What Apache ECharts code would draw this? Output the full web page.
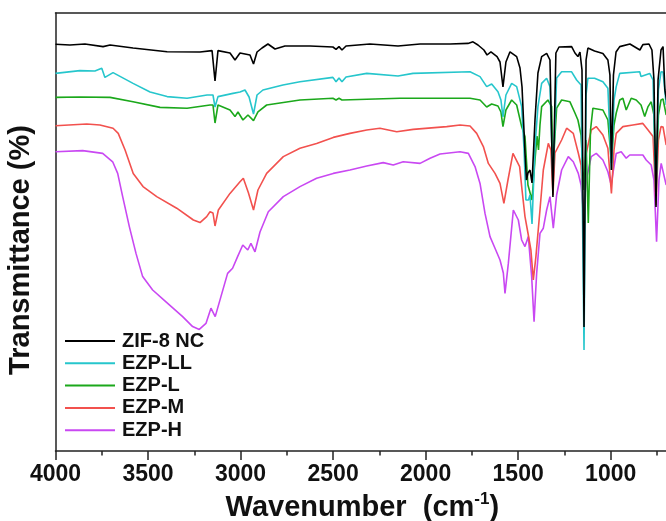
<!DOCTYPE html>
<html>
<head>
<meta charset="utf-8">
<title>FTIR spectra</title>
<script src="https://cdn.jsdelivr.net/npm/echarts@6/dist/echarts.min.js"></script>
<style>
  html, body { margin: 0; padding: 0; background: #ffffff; }
  #chart { width: 666px; height: 521px; }
</style>
</head>
<body>
<div id="chart"></div>
<script>
// FTIR transmittance spectra, stacked with vertical offsets (arbitrary units).
// Each point: [wavenumber (cm-1), transmittance].

const seriesNames = ['ZIF-8 NC', 'EZP-LL', 'EZP-L', 'EZP-M', 'EZP-H'];

const zif8nc = [
  [4000,101.7],[3922,101.5],[3841,101.75],[3743,101.1],[3705,101.5],[3581,100.75],[3397,99.8],
  [3219,99.75],[3154,100.1],[3138,92.5],[3122,100.1],[3057,99.5],[3030,97.75],[3003,99.5],
  [2949,99],[2930,96.75],[2911,99.75],[2884,100.75],[2852,101.75],[2814,100.5],[2760,101.25],
  [2625,101.25],[2501,101],[2484,100.4],[2468,101.1],[2452,100.25],[2430,101.25],[2301,101.75],
  [2149,101.25],[2030,101.75],[1868,101.75],[1771,101.9],[1744,102.3],[1717,101.5],[1685,100.25],
  [1668,99],[1647,99.8],[1614,98.6],[1598,97.25],[1582,91],[1566,97.25],[1544,99.8],[1508,98.6],
  [1490,95.75],[1479,91],[1463,74.5],[1455,67.75],[1447,69.5],[1436,70.25],[1425,67],[1409,82.75],
  [1393,94.5],[1373,98.6],[1346,99.4],[1328,97.75],[1312,63.5],[1296,99.5],[1279,101],[1211,101.1],
  [1193,99.5],[1177,98.6],[1166,99.75],[1155,95.25],[1144,31],[1133,97.75],[1123,100.75],
  [1087,100],[1042,99.4],[1015,97.75],[1004,94],[996,70.25],[985,94],[971,99.75],[951,101.1],
  [896,101.75],[842,100.25],[826,101.6],[793,101.75],[777,100.25],[766,92.75],[755,61],
  [744,92.75],[728,100.25],[717,101.1],[707,90.25],[698,87.75]
];

const ezpLL = [
  [4000,94.4],[3868,95.1],[3787,95],[3750,95.7],[3733,93.4],[3689,94.6],[3581,91.9],[3489,89.75],
  [3397,88.6],[3289,88.2],[3181,89],[3149,89],[3138,86],[3122,88.6],[3041,89.4],[3003,89.75],
  [2976,90.25],[2954,88.5],[2930,84.25],[2911,89],[2879,90.25],[2771,91.5],[2679,92.3],[2501,93.4],
  [2484,92.3],[2468,93.25],[2452,92.3],[2430,93.5],[2318,94.4],[2149,93.75],[2068,94.4],[1760,94.8],
  [1706,93.6],[1670,91.1],[1643,91.75],[1609,89.8],[1593,87.75],[1582,83.5],[1566,89],[1535,91.9],
  [1508,91.1],[1481,86.1],[1468,75.25],[1458,62.75],[1444,62.75],[1436,64],[1425,56.75],[1409,76.1],
  [1393,86.1],[1373,91.9],[1346,93.2],[1328,91.1],[1312,67.75],[1292,93.25],[1265,94.8],[1211,94.8],
  [1184,92.75],[1160,91.5],[1144,25.25],[1133,89],[1123,93.2],[1087,93.2],[1042,92.3],[1015,90.7],
  [996,70.25],[982,87.75],[970,91.1],[951,94.4],[843,94.8],[836,93.6],[789,94.4],[771,92.75],
  [755,62.75],[742,90.25],[728,94.8],[717,94.75],[700,86.5]
];

const ezpL = [
  [4000,88.4],[3868,88.5],[3705,88.4],[3581,87.3],[3435,85.9],[3289,85.7],[3165,86.5],[3149,86.5],
  [3138,82],[3122,86.5],[3057,85.25],[3030,83.6],[3014,84.75],[2987,82.75],[2960,84],[2930,82.6],
  [2906,84.8],[2859,86.5],[2679,87.75],[2501,88.2],[2484,87.75],[2468,88.2],[2452,87.75],[2139,88.2],
  [1760,88.2],[1706,87.75],[1670,86],[1643,86.75],[1609,86.25],[1593,84.75],[1582,81.1],[1566,85.25],
  [1535,87.75],[1508,86.5],[1481,81.1],[1463,78.6],[1447,66.5],[1425,62.75],[1409,72.75],[1398,78.75],
  [1390,75.25],[1382,81.5],[1373,86.1],[1339,87.75],[1319,86.1],[1312,70.25],[1292,85.7],[1265,87.75],
  [1220,87.3],[1193,84.5],[1177,82.75],[1160,79],[1144,65.25],[1133,77.75],[1121,57],[1109,80.25],
  [1096,85.7],[1042,85.25],[1015,82.75],[996,72],[982,81.5],[970,84.5],[951,87.75],[934,88.2],
  [916,85.25],[889,88.2],[862,87.75],[836,86.5],[816,83.6],[798,86.1],[781,87.3],[766,84],
  [755,67.75],[742,84],[728,87.75],[717,88],[700,84]
];

const ezpM = [
  [4000,81.3],[3831,81.75],[3760,81.5],[3689,80.7],[3661,79.4],[3624,75.25],[3580,69.4],[3527,66.1],
  [3453,63.6],[3345,60.7],[3255,57.75],[3219,57.1],[3183,58.6],[3165,59.8],[3149,59.5],[3138,56.25],
  [3120,60.25],[3057,64.4],[3003,67.3],[2985,68.2],[2958,64.6],[2930,60.25],[2906,65.25],[2859,69.4],
  [2769,73.6],[2679,75.7],[2589,76.9],[2499,78.4],[2409,79.4],[2318,80.25],[2247,80.7],[2156,79.8],
  [2067,80.4],[1886,81.1],[1814,81.5],[1760,81.25],[1724,79.4],[1688,76.1],[1661,71.9],[1625,69.4],
  [1598,66.9],[1577,61.9],[1555,67.75],[1528,74.4],[1492,71.1],[1479,65.25],[1463,58.6],[1447,54.5],
  [1431,50.25],[1418,42.75],[1404,48.6],[1382,60.25],[1364,70.25],[1337,76.9],[1323,75.25],[1312,64],
  [1301,74.5],[1265,77.75],[1238,80.7],[1202,79.4],[1175,74.5],[1160,71.5],[1144,52.75],[1132,74.4],
  [1105,80.25],[1078,81.1],[1042,79],[1015,75.7],[996,64.4],[982,75.25],[970,79.4],[934,81.1],
  [880,81.5],[826,81.9],[798,80.25],[771,78.6],[755,61.5],[742,77.75],[728,81.1],[717,81],[700,76.5]
];

const ezpH = [
  [4000,74.8],[3853,75.1],[3745,74.4],[3691,72.3],[3664,69.4],[3637,63.6],[3601,56.1],[3565,49.4],
  [3529,43.6],[3475,40.25],[3403,37.3],[3313,33.6],[3259,31.1],[3223,30.4],[3187,31.9],[3160,35.7],
  [3137,33.6],[3106,38.6],[3070,44.4],[3043,45.7],[3016,48.6],[2988,51.5],[2961,50.25],[2944,51.9],
  [2922,49.8],[2895,54.75],[2850,59.8],[2769,63.6],[2679,66.1],[2589,68.2],[2499,69.4],[2409,70.25],
  [2318,71.25],[2229,72.1],[2175,71.5],[2121,72.3],[2030,71.9],[1976,73.2],[1922,74.25],[1814,74.8],
  [1769,74.4],[1733,71.1],[1706,66.9],[1679,59.4],[1652,53.6],[1625,50.7],[1598,47.75],[1580,44.5],
  [1571,39.4],[1553,46.9],[1526,60.25],[1499,57.75],[1481,52.75],[1463,51.1],[1445,53.6],[1427,43.6],
  [1414,32.3],[1400,44.4],[1382,54.4],[1364,55.7],[1346,60.25],[1328,63.6],[1310,55.7],[1292,64],
  [1265,70.25],[1229,73.6],[1202,72.3],[1175,69.4],[1160,66.5],[1147,59.75],[1132,67.75],[1105,73.6],
  [1078,74.4],[1042,72.75],[1015,69.8],[997,66.5],[985,70.25],[970,74.4],[943,74.8],[916,73.2],
  [897,74],[826,74],[808,72.75],[781,71.5],[766,67.75],[752,52.3],[739,67.75],[727,71.9],[717,71.75],
  [700,66.5]
];

const seriesData = [zif8nc, ezpLL, ezpL, ezpM, ezpH];
const palette = ['#000000', '#26C6CC', '#1BA81B', '#F2514E', '#C948F2'];

const FONT = '"Liberation Sans", Arial, sans-serif';

const chart = echarts.init(document.getElementById('chart'), null, { renderer: 'canvas' });

// Series are stacked so the first legend entry is drawn on top.
const series = seriesNames.map((name, i) => ({
  name: name,
  type: 'line',
  data: seriesData[i],
  symbol: 'none',
  smooth: false,
  z: 10 - i,
  lineStyle: { color: palette[i], width: 1.6 },
  itemStyle: { color: palette[i] },
  emphasis: { disabled: true },
  animation: false
}));

chart.setOption({
  backgroundColor: '#ffffff',
  animation: false,
  // The wavenumber scale continues past the right edge of the canvas.
  grid: { left: 55.5, top: 13, width: 647.7, height: 438, containLabel: false, outerBoundsMode: 'none' },
  legend: {
    data: seriesNames,
    orient: 'vertical',
    left: 65,
    top: 331,
    padding: 0,
    itemWidth: 50,
    itemHeight: 14,
    itemGap: 2.3,
    icon: 'path://M0,0 L50,0 L50,2 L0,2 Z',
    textStyle: { fontFamily: FONT, fontWeight: 'bold', fontSize: 20, color: '#111', lineHeight: 20, padding: [0, 0, 0, 2] },
    selectedMode: false
  },
  xAxis: [{
    type: 'value',
    inverse: true,
    min: 500,
    max: 4000,
    interval: 500,
    position: 'bottom',
    name: '{a|Wavenumber  (cm}{s|-1}{a|)}',
    nameLocation: 'middle',
    nameGap: 35,
    nameTextStyle: {
      padding: [0, 34, 0, 0],
      rich: {
        a: { fontFamily: FONT, fontWeight: 'bold', fontSize: 29, color: '#111', verticalAlign: 'bottom', lineHeight: 32 },
        s: { fontFamily: FONT, fontWeight: 'bold', fontSize: 17, color: '#111', verticalAlign: 'top', lineHeight: 18 }
      }
    },
    axisLine: { show: true, onZero: false, lineStyle: { color: '#222', width: 1.5 } },
    axisTick: { show: true, inside: false, length: 9, lineStyle: { color: '#222', width: 1.5 } },
    minorTick: { show: true, splitNumber: 2, length: 4.5, lineStyle: { color: '#222', width: 1.5 } },
    axisLabel: {
      show: true, margin: 12, fontFamily: FONT, fontWeight: 'bold', fontSize: 23, color: '#111',
      formatter: (v) => String(v)
    },
    splitLine: { show: false }
  }, {
    type: 'value',
    inverse: true,
    min: 500,
    max: 4000,
    position: 'top',
    axisLine: { show: true, onZero: false, lineStyle: { color: '#222', width: 1.5 } },
    axisTick: { show: false },
    axisLabel: { show: false },
    splitLine: { show: false }
  }],
  yAxis: {
    type: 'value',
    min: 0,
    max: 109.5,
    name: 'Transmittance (%)',
    nameLocation: 'middle',
    nameRotate: 90,
    nameGap: 20,
    nameTextStyle: { fontFamily: FONT, fontWeight: 'bold', fontSize: 29, color: '#111', padding: [0, 36, 0, 0] },
    axisLine: { show: true, lineStyle: { color: '#222', width: 1.5 } },
    axisTick: { show: false },
    axisLabel: { show: false },
    splitLine: { show: false }
  },
  series: series
});
</script>
</body>
</html>
